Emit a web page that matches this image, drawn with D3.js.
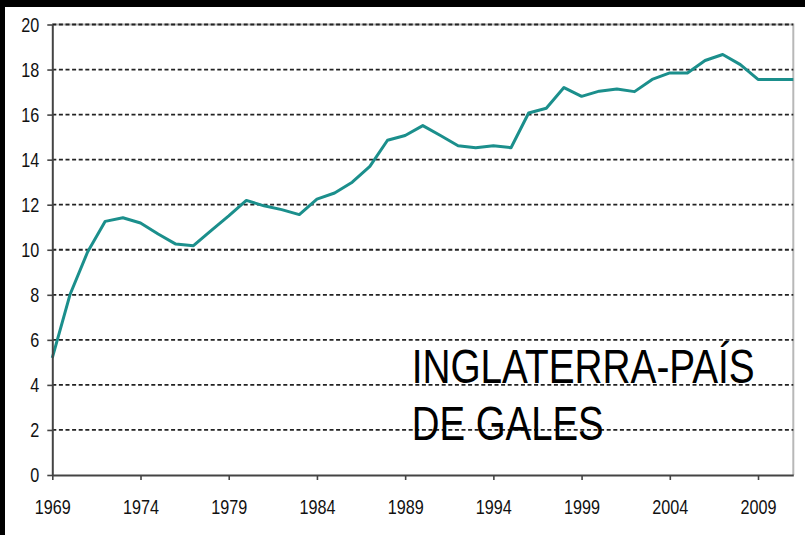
<!DOCTYPE html>
<html>
<head>
<meta charset="utf-8">
<script src="https://cdn.jsdelivr.net/npm/d3@7"></script>
<style>
  html, body { margin: 0; padding: 0; background: #fff; }
  svg { display: block; }
  .axis text { font-family: "Liberation Sans", Arial, sans-serif; fill: #111; }
</style>
</head>
<body>
<div id="main"></div>
<script>
const years = d3.range(1969, 2012);
const values = [
  5.2, 8.0, 9.9, 11.26, 11.42, 11.19, 10.7, 10.25, 10.18, 10.85,
  11.5, 12.19, 11.95, 11.78, 11.56, 12.25, 12.52, 13.0, 13.7, 14.86,
  15.07, 15.51, 15.07, 14.62, 14.53, 14.62, 14.53, 16.07, 16.28, 17.2,
  16.81, 17.04, 17.14, 17.02, 17.56, 17.85, 17.85, 18.4, 18.67, 18.22,
  17.56, 17.56, 17.56
];
const xTicks = [1969, 1974, 1979, 1984, 1989, 1994, 1999, 2004, 2009];
const yTicks = [0, 2, 4, 6, 8, 10, 12, 14, 16, 18, 20];
const titleLines = ['INGLATERRA-PAÍS', 'DE GALES'];

function main() {
  const width = 805;
  const height = 535;
  const left = 52.3;
  const right = 793.3;
  const top = 24.5;
  const bottom = 475;

  const data = years.map((y, i) => [y, values[i]]);

  const xScale = d3.scaleLinear()
    .domain([1969, 2011])
    .range([left, right]);

  const yScale = d3.scaleLinear()
    .domain([0, 20])
    .range([bottom, top]);

  const svg = d3.select('#main')
    .append('svg')
    .attr('width', width)
    .attr('height', height);

  svg.append('rect')
    .attr('width', width)
    .attr('height', height)
    .attr('fill', '#fff');

  // black frame remnants
  svg.append('rect')
    .attr('x', 0).attr('y', 0)
    .attr('width', width).attr('height', 7)
    .attr('fill', '#000');
  svg.append('rect')
    .attr('x', 0).attr('y', 0)
    .attr('width', 5).attr('height', height)
    .attr('fill', '#000');

  // plot border top / right
  svg.append('path')
    .attr('d', `M${left},${top}H${right}V${bottom}`)
    .attr('fill', 'none')
    .attr('stroke', '#b8b8b8')
    .attr('stroke-width', 2);

  svg.append('g')
    .selectAll('line')
    .data(yTicks.filter(d => d > 0))
    .enter()
    .append('line')
    .attr('x1', left)
    .attr('x2', right)
    .attr('y1', d => yScale(d))
    .attr('y2', d => yScale(d))
    .attr('stroke', '#222')
    .attr('stroke-width', 1.8)
    .attr('stroke-dasharray', '4,2.6');

  const line = d3.line()
    .x(d => xScale(d[0]))
    .y(d => yScale(d[1]));

  svg.append('path')
    .datum(data)
    .attr('d', line)
    .attr('fill', 'none')
    .attr('stroke', '#1b8f8c')
    .attr('stroke-width', 3)
    .attr('stroke-linejoin', 'round');

  const xAxis = d3.axisBottom(xScale)
    .tickValues(xTicks)
    .tickFormat(d3.format('d'))
    .tickSizeInner(5)
    .tickSizeOuter(0)
    .tickPadding(19);

  const yAxis = d3.axisLeft(yScale)
    .tickValues(yTicks)
    .tickSizeInner(5)
    .tickSizeOuter(0)
    .tickPadding(8);

  const gx = svg.append('g')
    .attr('class', 'axis')
    .attr('transform', `translate(0, ${bottom})`)
    .call(xAxis);

  const gy = svg.append('g')
    .attr('class', 'axis')
    .attr('transform', `translate(${left}, 0)`)
    .call(yAxis);

  [gx, gy].forEach((g) => {
    g.select('.domain').attr('stroke', '#444').attr('stroke-width', 2);
    g.selectAll('.tick line').attr('stroke', '#444').attr('stroke-width', 1.6);
    g.selectAll('text')
      .style('font-size', '21px')
      .attr('textLength', function () { return this.textContent.length * 9; })
      .attr('lengthAdjust', 'spacingAndGlyphs');
  });

  const titleBase = [383.3, 440];
  const titleLen = [343, 192];
  svg.selectAll('.title')
    .data(titleLines)
    .enter()
    .append('text')
    .attr('class', 'title')
    .attr('x', 411.7)
    .attr('y', (d, i) => titleBase[i])
    .attr('textLength', (d, i) => titleLen[i])
    .attr('lengthAdjust', 'spacingAndGlyphs')
    .style('font-family', '"Liberation Sans", Arial, sans-serif')
    .style('font-size', '49px')
    .style('fill', '#000')
    .text(d => d);
}

document.addEventListener('DOMContentLoaded', main);
</script>
</body>
</html>
